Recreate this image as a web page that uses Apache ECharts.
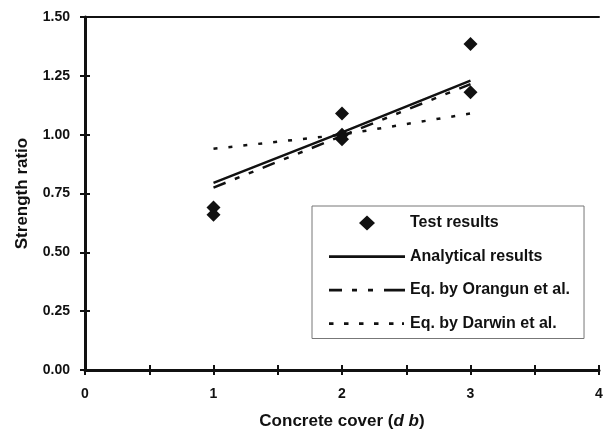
<!DOCTYPE html>
<html>
<head>
<meta charset="utf-8">
<script src="https://cdn.jsdelivr.net/npm/echarts@6/dist/echarts.min.js"></script>
<style>
  html, body { margin: 0; padding: 0; background: #fff; }
  #chart { width: 606px; height: 432px; }
</style>
</head>
<body>
<div id="chart"></div>
<script>
// Strength ratio vs concrete cover.
const testCover = [1, 1, 2, 2, 2, 3, 3];
const testRatio = [0.69, 0.66, 1.09, 1.00, 0.98, 1.385, 1.18];

const lineCover = [1, 2, 3];
const analytical = [0.795, 1.01, 1.23];
const orangun = [0.775, 0.995, 1.215];

const darwinCover = [1, 2, 3, 3];
const darwin = [0.94, 1.0, 1.09, 1.135];

const xTicks = [0, 1, 2, 3, 4];
const yTicks = ['0.00', '0.25', '0.50', '0.75', '1.00', '1.25', '1.50'];

const FONT = 'Liberation Sans';
const INK = '#111';

const pairs = (xs, ys) => xs.map((x, i) => [x, ys[i]]);

// Legend keys are 76x16 boxes. Two empty sub-paths pin the box corners so the
// key glyph is not stretched; the rest is the glyph itself.
const BOX = 'M0 0L0 0Z M76 16L76 16Z ';
const bar = (x0, x1) => `M${x0} 6.7L${x1} 6.7L${x1} 9.5L${x0} 9.5Z `;
const ICONS = {
  test: 'path://' + BOX + 'M38 0.5L46 8L38 15.5L30 8Z',
  analytical: 'path://' + BOX + bar(0, 76),
  orangun: 'path://' + BOX + bar(0, 13) + bar(23, 28) + bar(39, 44) + bar(55, 76),
  darwin: 'path://' + BOX + bar(0, 4.5) + bar(15, 19.5) + bar(30, 34.5) + bar(45, 49.5) + bar(60, 64.5) + bar(73, 75),
};

const chart = echarts.init(document.getElementById('chart'), null, { renderer: 'canvas' });

const hidden = { show: false };
const key = (name, icon) => ({ name, icon, itemStyle: { color: INK, borderWidth: 0, opacity: 1 } });

chart.setOption({
  backgroundColor: '#ffffff',
  animation: false,
  textStyle: { fontFamily: FONT },
  grid: { left: 85, right: 7, top: 17, bottom: 62, outerBoundsMode: 'none', containLabel: false },
  xAxis: [
    {
      type: 'value', position: 'bottom', min: 0, max: 4, interval: 0.5,
      splitLine: hidden,
      axisLine: { lineStyle: { color: INK, width: 3 } },
      axisTick: { length: 5, lineStyle: { color: INK, width: 2 } },
      axisLabel: {
        margin: 17, color: INK, fontWeight: 'bold', fontSize: 14, fontFamily: FONT,
        formatter: (v) => (xTicks.includes(v) ? String(v) : ''),
      },
      name: 'Concrete cover ({i|d b})',
      nameLocation: 'middle', nameGap: 43,
      nameTextStyle: {
        color: INK, fontWeight: 'bold', fontSize: 17, fontFamily: FONT,
        rich: { i: { fontStyle: 'italic', fontWeight: 'bold', fontSize: 17, color: INK, fontFamily: FONT } },
      },
    },
    {
      // inside half of the crossing tick marks
      type: 'value', position: 'bottom', min: 0, max: 4, interval: 0.5,
      splitLine: hidden, axisLine: hidden, axisLabel: hidden,
      axisTick: { inside: true, length: 5, lineStyle: { color: INK, width: 2 } },
    },
    {
      // top frame line
      type: 'value', position: 'top', min: 0, max: 4, interval: 0.5,
      splitLine: hidden, axisLabel: hidden, axisTick: hidden,
      axisLine: { lineStyle: { color: INK, width: 2 } },
    },
  ],
  yAxis: [
    {
      type: 'value', position: 'left', min: 0, max: 1.5, interval: 0.25,
      splitLine: hidden,
      axisLine: { lineStyle: { color: INK, width: 3 } },
      axisTick: { length: 5, lineStyle: { color: INK, width: 2 } },
      axisLabel: {
        margin: 15, color: INK, fontWeight: 'bold', fontSize: 14, fontFamily: FONT,
        formatter: (v) => yTicks[Math.round(v / 0.25)],
      },
      name: 'Strength ratio',
      nameLocation: 'middle', nameGap: 54, nameRotate: 90,
      nameTextStyle: { color: INK, fontWeight: 'bold', fontSize: 17, fontFamily: FONT },
    },
    {
      type: 'value', position: 'left', min: 0, max: 1.5, interval: 0.25,
      splitLine: hidden, axisLine: hidden, axisLabel: hidden,
      axisTick: { inside: true, length: 5, lineStyle: { color: INK, width: 2 } },
    },
  ],
  legend: {
    orient: 'vertical',
    left: 312, top: 206,
    padding: [9, 14, 7, 17],
    itemWidth: 76, itemHeight: 16, itemGap: 17.5,
    backgroundColor: '#fff',
    borderColor: '#777', borderWidth: 1,
    textStyle: { color: INK, fontWeight: 'bold', fontSize: 16, fontFamily: FONT },
    data: [
      key('Test results', ICONS.test),
      key('Analytical results', ICONS.analytical),
      key('Eq. by Orangun et al.', ICONS.orangun),
      key('Eq. by Darwin et al.', ICONS.darwin),
    ],
  },
  series: [
    {
      name: 'Analytical results', type: 'line', data: pairs(lineCover, analytical),
      symbol: 'none', z: 3,
      lineStyle: { color: INK, width: 2.5, type: 'solid' },
      itemStyle: { color: INK },
    },
    {
      name: 'Eq. by Orangun et al.', type: 'line', data: pairs(lineCover, orangun),
      symbol: 'none', z: 3,
      lineStyle: { color: INK, width: 2.5, type: [13, 10, 5, 10, 5, 10] },
      itemStyle: { color: INK },
    },
    {
      name: 'Eq. by Darwin et al.', type: 'line', data: pairs(darwinCover, darwin),
      symbol: 'none', z: 3,
      lineStyle: { color: INK, width: 2.5, type: [4, 11] },
      itemStyle: { color: INK },
    },
    {
      name: 'Test results', type: 'scatter', data: pairs(testCover, testRatio),
      symbol: 'diamond', symbolSize: [14, 14], z: 4,
      itemStyle: { color: INK, opacity: 1 },
    },
  ],
});
</script>
</body>
</html>
